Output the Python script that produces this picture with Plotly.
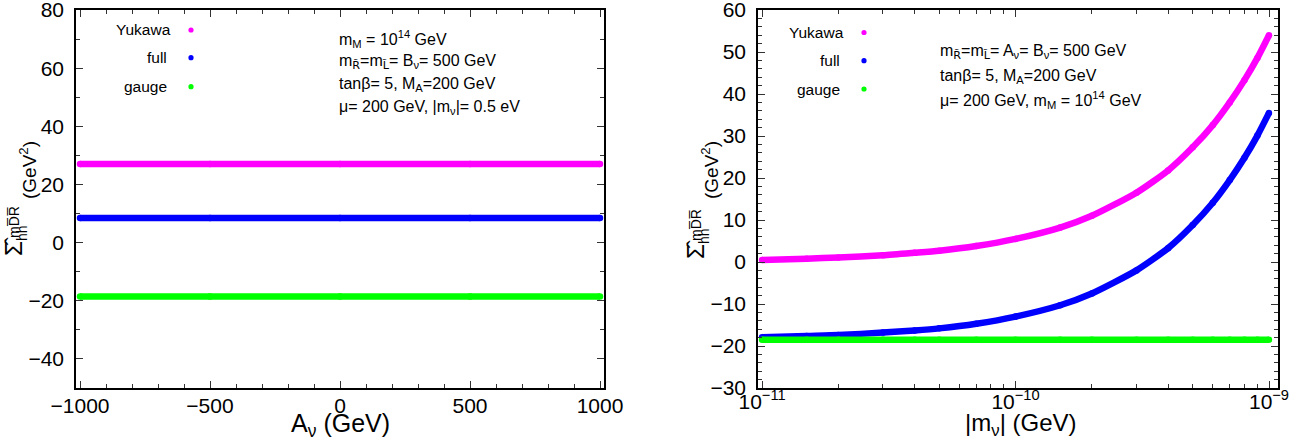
import plotly.graph_objects as go

# ---------------- data ----------------
# left panel: A_nu scan (GeV)
a_nu = [-1000, -500, 0, 500, 1000]
left_yukawa = [27.0, 27.0, 27.0, 27.0, 27.0]
left_full = [8.5, 8.5, 8.5, 8.5, 8.5]
left_gauge = [-18.5, -18.5, -18.5, -18.5, -18.5]

# right panel: |m_nu| scan (GeV)
m_nu = [1e-11, 1.5e-11, 2e-11, 3e-11, 4e-11, 5e-11, 7e-11, 1e-10, 1.5e-10,
        2e-10, 3e-10, 4e-10, 5e-10, 6e-10, 7e-10, 8e-10, 9e-10, 1e-9]
right_yukawa = [0.5, 0.8, 1.1, 1.6, 2.2, 2.7, 3.8, 5.5, 8.2,
                11.0, 16.5, 21.8, 27.3, 32.6, 38.0, 43.3, 48.6, 54.0]
right_full = [-17.9, -17.6, -17.4, -16.8, -16.3, -15.8, -14.7, -13.0, -10.3,
              -7.5, -2.0, 3.3, 8.8, 14.1, 19.5, 24.8, 30.1, 35.5]
right_gauge = [-18.5] * len(m_nu)

series_names = ["Yukawa", "full", "gauge"]
colors = {"Yukawa": "#ff00ff", "full": "#0000ff", "gauge": "#00ff00"}

left_tickvals = [-1000, -500, 0, 500, 1000]
left_ticktext = ["\u22121000", "\u2212500", "0", "500", "1000"]
left_ytickvals = [-40, -20, 0, 20, 40, 60, 80]
left_yticktext = ["\u221240", "\u221220", "0", "20", "40", "60", "80"]
right_tickvals = [1e-11, 1e-10, 1e-9]
right_ticktext = ["10<sup>\u221211</sup>", "10<sup>\u221210</sup>", "10<sup>\u22129</sup>"]
right_ytickvals = [-30, -20, -10, 0, 10, 20, 30, 40, 50, 60]
right_yticktext = ["\u221230", "\u221220", "\u221210", "0", "10", "20", "30", "40", "50", "60"]
right_minor = [k * 10.0 ** e for e in (-11, -10) for k in range(2, 10)]

W, H = 1313, 440
FONT = "Liberation Sans, Arial, Helvetica, sans-serif"

def px(x):
    return x / W

def py(y):
    return 1 - y / H

fig = go.Figure()

LW = 6.5
for name, ys in zip(series_names, [left_yukawa, left_full, left_gauge]):
    fig.add_trace(go.Scatter(x=a_nu, y=ys, mode="lines+markers", name=name,
                             line=dict(color=colors[name], width=LW),
                             marker=dict(color=colors[name], size=LW),
                             xaxis="x", yaxis="y", showlegend=False))
for name, ys in zip(series_names, [right_yukawa, right_full, right_gauge]):
    fig.add_trace(go.Scatter(x=m_nu, y=ys, mode="lines+markers", name=name,
                             line=dict(color=colors[name], width=LW, shape="spline", smoothing=0.6),
                             marker=dict(color=colors[name], size=LW),
                             xaxis="x2", yaxis="y2", showlegend=False))

axis_common = dict(showline=True, linecolor="black", linewidth=1.5, mirror="allticks",
                   ticks="inside", ticklen=7, tickwidth=1, tickcolor="#333",
                   showgrid=False, zeroline=False, automargin=False,
                   ticklabeloverflow="allow",
                   tickfont=dict(family=FONT, size=21, color="black"))

L0, L1 = 76, 604
R0, R1 = 758, 1278
T, B = 10, 388

fig.update_layout(
    width=W, height=H, margin=dict(l=0, r=0, t=0, b=0, pad=0),
    paper_bgcolor="white", plot_bgcolor="white", showlegend=False,
    xaxis=dict(domain=[px(L0), px(L1)], range=[-1015.4, 1015.4], anchor="y",
               tickmode="array", tickvals=left_tickvals, ticktext=left_ticktext,
               minor=dict(ticks="inside", ticklen=4, dtick=100, tickcolor="#333"),
               ticklabelstandoff=-2, **axis_common),
    yaxis=dict(domain=[py(B), py(T)], range=[-50, 80], anchor="x",
               tickmode="array", tickvals=left_ytickvals, ticktext=left_yticktext,
               minor=dict(ticks="inside", ticklen=4, dtick=10, tickcolor="#333"),
               ticklabelstandoff=6, **axis_common),
    xaxis2=dict(domain=[px(R0), px(R1)], type="log", range=[-11.016, -8.9645], anchor="y2",
                tickmode="array", tickvals=right_tickvals, ticktext=right_ticktext,
                minor=dict(ticks="inside", ticklen=4, tickmode="array", tickvals=right_minor,
                           tickcolor="#333"),
                ticklabelstandoff=-6, **axis_common),
    yaxis2=dict(domain=[py(B), py(T)], range=[-30, 60], anchor="x2",
                tickmode="array", tickvals=right_ytickvals, ticktext=right_yticktext,
                minor=dict(ticks="inside", ticklen=4, dtick=2, tickcolor="#333"),
                ticklabelstandoff=6, **axis_common),
)

ann = []
shapes = []

def text(x, y, s, size=16, xanchor="left", yanchor="middle", angle=0):
    ann.append(dict(x=px(x), y=py(y), xref="paper", yref="paper", text=s, showarrow=False,
                    xanchor=xanchor, yanchor=yanchor, textangle=angle,
                    font=dict(family=FONT, size=size, color="black")))

def dot(x, y, c, r=2.6):
    shapes.append(dict(type="circle", xref="paper", yref="paper",
                       x0=px(x - r), x1=px(x + r), y0=py(y + r), y1=py(y - r),
                       fillcolor=c, line=dict(width=0)))

# legends
for (name, yy, xr) in [("Yukawa", 30, 173), ("full", 57.7, 169), ("gauge", 86.7, 169)]:
    text(xr, yy, name, size=15.5, xanchor="right")
    dot(191, yy, colors[name])
for (name, yy, xr) in [("Yukawa", 32.5, 846), ("full", 60.7, 842), ("gauge", 89, 842)]:
    text(xr, yy, name, size=15.5, xanchor="right")
    dot(864, yy, colors[name])

DV = "<span style='font-family:DejaVu Sans'>"
RT = DV + "R\u0303</span>"
LT = DV + "L\u0303</span>"

# parameter text
text(337, 39, "m<sub>M</sub> = 10<sup>14</sup> GeV")
text(337, 62, "m<sub>" + RT + "</sub>=m<sub>" + LT + "</sub>= B<sub>\u03bd</sub>= 500 GeV")
text(337, 84, "tan\u03b2= 5, M<sub>A</sub>=200 GeV")
text(337, 107, "\u03bc= 200 GeV, |m<sub>\u03bd</sub>|= 0.5 eV")

text(938, 52, "m<sub>" + RT + "</sub>=m<sub>" + LT + "</sub>= A<sub>\u03bd</sub>= B<sub>\u03bd</sub>= 500 GeV")
text(938, 76, "tan\u03b2= 5, M<sub>A</sub>=200 GeV")
text(938, 100, "\u03bc= 200 GeV, m<sub>M</sub> = 10<sup>14</sup> GeV")

# axis titles
text((L0 + L1) / 2, 425, "A<sub>\u03bd</sub> (GeV)", size=25, xanchor="center")
text((R0 + R1) / 2 + 3, 424, "|m<sub>\u03bd</sub>| (GeV)", size=24, xanchor="center")

for ax0, yc in [(L0, 247), (R0, 250)]:
    text(ax0 - 63, yc, "\u03a3\u0302", size=24, xanchor="center", angle=-90)
    text(ax0 - 62, yc - 25, "mD\u0305R\u0305", size=14, xanchor="center", angle=-90)
    text(ax0 - 54, yc - 14, "hh", size=14, xanchor="center", angle=-90)
    text(ax0 - 48, 170, "(GeV<sup>2</sup>)", size=19, xanchor="center", angle=-90)

fig.update_layout(annotations=ann, shapes=shapes)
fig.write_html("out.html")
